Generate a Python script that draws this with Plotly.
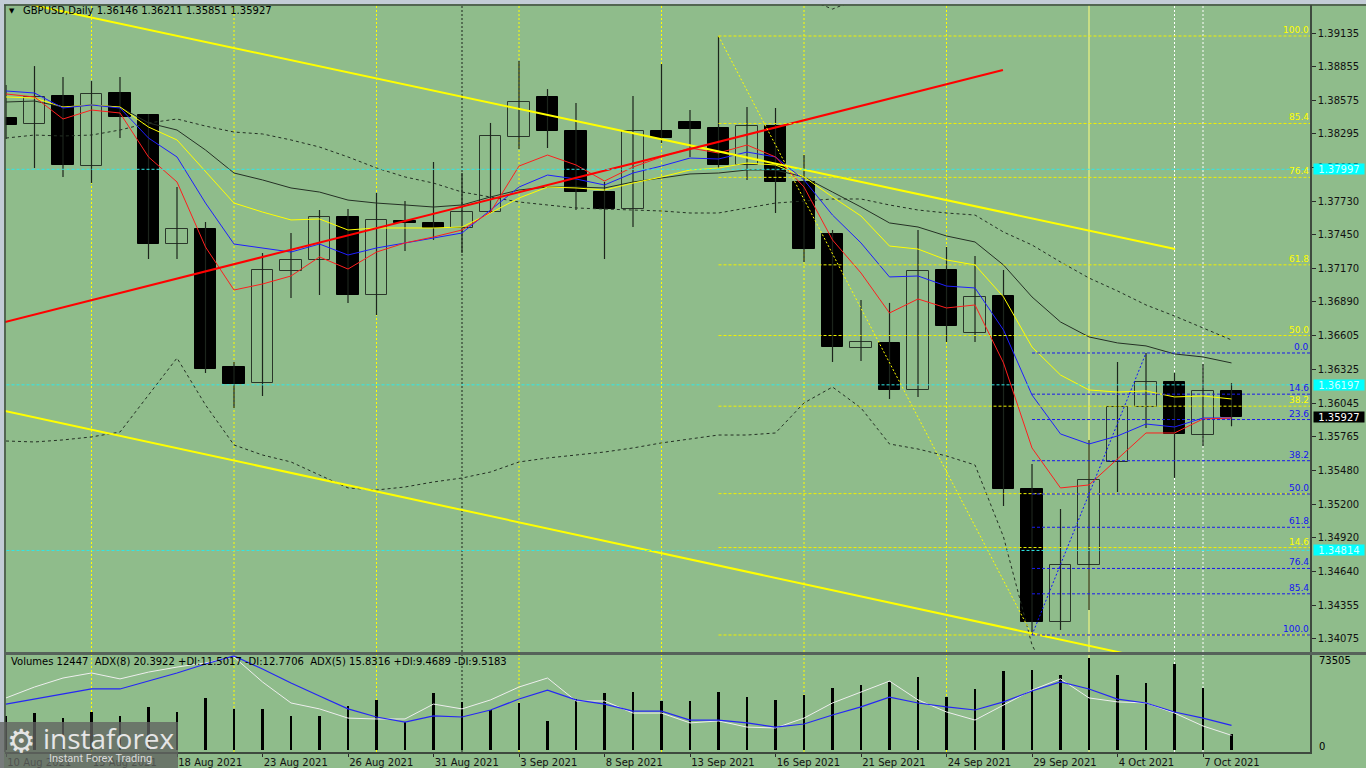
import plotly.graph_objects as go

# ---------------- data ----------------
dates = ["10 Aug 2021", "11 Aug 2021", "12 Aug 2021", "13 Aug 2021", "16 Aug 2021", "17 Aug 2021",
         "18 Aug 2021", "19 Aug 2021", "20 Aug 2021", "23 Aug 2021", "24 Aug 2021", "25 Aug 2021",
         "26 Aug 2021", "27 Aug 2021", "30 Aug 2021", "31 Aug 2021", "1 Sep 2021", "2 Sep 2021",
         "3 Sep 2021", "6 Sep 2021", "7 Sep 2021", "8 Sep 2021", "9 Sep 2021", "10 Sep 2021",
         "13 Sep 2021", "14 Sep 2021", "15 Sep 2021", "16 Sep 2021", "17 Sep 2021", "20 Sep 2021",
         "21 Sep 2021", "22 Sep 2021", "23 Sep 2021", "24 Sep 2021", "27 Sep 2021", "28 Sep 2021",
         "29 Sep 2021", "30 Sep 2021", "1 Oct 2021", "4 Oct 2021", "5 Oct 2021", "6 Oct 2021",
         "7 Oct 2021", "8 Oct 2021"]
bar_pos = list(range(len(dates)))

opens = [1.38425, 1.38375, 1.38609, 1.38024, 1.38634, 1.38450, 1.37373, 1.37498, 1.36346, 1.36213,
         1.37148, 1.37240, 1.37599, 1.36947, 1.37565, 1.37549, 1.37507, 1.37640, 1.38267, 1.38601,
         1.38317, 1.37807, 1.37665, 1.38317, 1.38392, 1.38342, 1.38033, 1.38359, 1.37891, 1.37457,
         1.36505, 1.36547, 1.36154, 1.37156, 1.36630, 1.36939, 1.35327, 1.34217, 1.34693, 1.35553,
         1.36012, 1.36221, 1.35778, 1.36146]
highs = [1.38700, 1.38859, 1.38768, 1.38734, 1.38768, 1.38459, 1.37849, 1.37557, 1.36388, 1.37298,
         1.37465, 1.37657, 1.37665, 1.37799, 1.37732, 1.38058, 1.37966, 1.38384, 1.38901, 1.38667,
         1.38551, 1.37891, 1.38609, 1.38876, 1.38492, 1.39110, 1.38517, 1.38509, 1.38116, 1.37490,
         1.36906, 1.36881, 1.37490, 1.37348, 1.37273, 1.37156, 1.35536, 1.35160, 1.35737, 1.36388,
         1.36463, 1.36296, 1.36371, 1.36211]
lows = [1.38250, 1.38008, 1.37933, 1.37883, 1.38258, 1.37248, 1.37248, 1.36296, 1.36004, 1.36104,
        1.36922, 1.36947, 1.36881, 1.36780, 1.37315, 1.37407, 1.37298, 1.37632, 1.38166, 1.38175,
        1.37657, 1.37248, 1.37515, 1.38217, 1.38100, 1.38008, 1.37908, 1.37632, 1.37223, 1.36388,
        1.36396, 1.36079, 1.36096, 1.36555, 1.36555, 1.35185, 1.34108, 1.34150, 1.34317, 1.35302,
        1.35837, 1.35420, 1.35686, 1.35851]
closes = [1.38367, 1.38601, 1.38033, 1.38626, 1.38434, 1.37373, 1.37498, 1.36329, 1.36204, 1.37156,
          1.37240, 1.37599, 1.36947, 1.37574, 1.37549, 1.37507, 1.37640, 1.38275, 1.38559, 1.38317,
          1.37807, 1.37665, 1.38317, 1.38258, 1.38333, 1.38033, 1.38359, 1.37891, 1.37331, 1.36513,
          1.36555, 1.36154, 1.37148, 1.36689, 1.36931, 1.35327, 1.34217, 1.34693, 1.35403, 1.36012,
          1.36221, 1.35787, 1.36146, 1.35927]

ma_red = [1.38626, 1.38601, 1.38417, 1.38492, 1.38467, 1.38100, 1.37891, 1.37348, 1.36989, 1.37039,
          1.37106, 1.37265, 1.37164, 1.37306, 1.37382, 1.37432, 1.37490, 1.37640, 1.38024, 1.38116,
          1.38033, 1.37899, 1.38016, 1.38100, 1.38175, 1.38133, 1.38200, 1.38100, 1.37849, 1.37407,
          1.37131, 1.36797, 1.36914, 1.36839, 1.36864, 1.36380, 1.35670, 1.35336, 1.35361, 1.35578,
          1.35795, 1.35795, 1.35912, 1.35920]
ma_blue = [1.38651, 1.38634, 1.38509, 1.38534, 1.38509, 1.38258, 1.38100, 1.37715, 1.37373, 1.37340,
           1.37306, 1.37373, 1.37281, 1.37340, 1.37382, 1.37423, 1.37465, 1.37657, 1.37849, 1.37949,
           1.37916, 1.37866, 1.37966, 1.38024, 1.38091, 1.38083, 1.38141, 1.38100, 1.37908, 1.37615,
           1.37382, 1.37098, 1.37106, 1.37022, 1.37006, 1.36655, 1.36112, 1.35787, 1.35703, 1.35770,
           1.35870, 1.35845, 1.35920, 1.35920]
ma_yellow = [1.38601, 1.38592, 1.38517, 1.38534, 1.38517, 1.38350, 1.38242, 1.37974, 1.37715, 1.37640,
             1.37574, 1.37582, 1.37490, 1.37507, 1.37507, 1.37507, 1.37515, 1.37632, 1.37757, 1.37849,
             1.37841, 1.37824, 1.37882, 1.37933, 1.37991, 1.38008, 1.38049, 1.38033, 1.37933, 1.37766,
             1.37607, 1.37356, 1.37331, 1.37240, 1.37198, 1.36931, 1.36513, 1.36279, 1.36154, 1.36137,
             1.36146, 1.36096, 1.36104, 1.36079]
ma_black = [1.38559, 1.38567, 1.38517, 1.38534, 1.38517, 1.38384, 1.38325, 1.38158, 1.37966, 1.37908,
            1.37841, 1.37807, 1.37740, 1.37715, 1.37699, 1.37682, 1.37699, 1.37766, 1.37824, 1.37849,
            1.37849, 1.37841, 1.37891, 1.37924, 1.37958, 1.37966, 1.37991, 1.37991, 1.37933, 1.37807,
            1.37682, 1.37549, 1.37515, 1.37440, 1.37390, 1.37198, 1.36931, 1.36722, 1.36597, 1.36547,
            1.36522, 1.36455, 1.36430, 1.36380]
band_upper = [1.38258, 1.38283, 1.38275, 1.38283, 1.38325, 1.38384, 1.38417, 1.38358, 1.38308, 1.38292,
              1.38242, 1.38183, 1.38100, 1.38008, 1.37933, 1.37882, 1.37807, 1.37766, 1.37724, 1.37699,
              1.37674, 1.37665, 1.37657, 1.37649, 1.37632, 1.37632, 1.37674, 1.37715, 1.37732, 1.37749,
              1.37749, 1.37699, 1.37657, 1.37632, 1.37615, 1.37473, 1.37365, 1.37223, 1.37089, 1.36981,
              1.36864, 1.36772, 1.36672, 1.36572]
band_lower = [1.35728, 1.35720, 1.35737, 1.35762, 1.35803, 1.36112, 1.36421, 1.36029, 1.35695, 1.35611,
              1.35553, 1.35444, 1.35336, 1.35319, 1.35344, 1.35386, 1.35419, 1.35469, 1.35553, 1.35586,
              1.35611, 1.35636, 1.35670, 1.35712, 1.35745, 1.35778, 1.35778, 1.35795, 1.36046, 1.36179,
              1.36004, 1.35703, 1.35661, 1.35603, 1.35528, 1.34927, 1.34025, 1.33566, 1.33399, 1.33316,
              1.33274, 1.33232, 1.33190, 1.33149]
band_top_pos = [28, 29, 30]
band_top = [1.39430, 1.39335, 1.39430]

volumes = [27166, 29563, 25568, 30362, 27166, 34357, 30362, 41548, 32759, 32759,
           27166, 27166, 35156, 39950, 22372, 45543, 38352, 31960, 37553, 23171,
           40749, 45543, 46342, 39151, 39151, 46342, 42347, 39950, 43945, 49538,
           51935, 54332, 58327, 42347, 48739, 63121, 63920, 59925, 73505, 59925,
           53533, 68714, 49538, 12447]
adx8 = [30.1, 32.4, 34.7, 37.0, 37.0, 40.6, 44.3, 48.4, 52.1, 46.1,
        39.7, 33.8, 27.9, 24.2, 21.9, 24.7, 24.2, 27.4, 32.4, 36.5,
        32.0, 30.1, 26.9, 26.9, 22.8, 22.8, 21.5, 19.6, 21.0, 25.1,
        28.8, 33.3, 30.6, 28.8, 27.4, 31.1, 36.1, 40.2, 37.0, 32.4,
        30.6, 26.5, 23.7, 20.39]
adx5 = [32.9, 37.9, 42.0, 44.3, 41.6, 44.7, 47.0, 48.9, 51.6, 40.2,
        30.6, 27.9, 23.7, 23.3, 23.3, 30.1, 27.9, 32.0, 37.9, 42.0,
        31.5, 31.5, 26.0, 26.0, 21.5, 22.4, 19.6, 19.2, 23.7, 30.6,
        35.6, 40.6, 32.0, 26.5, 22.8, 29.7, 36.5, 41.6, 32.9, 31.1,
        30.6, 26.0, 20.1, 15.83]

price_ticks = [1.39135, 1.38855, 1.38575, 1.38295, 1.38015, 1.37730, 1.37450, 1.37170, 1.36890, 1.36605,
               1.36325, 1.36045, 1.35765, 1.35480, 1.35200, 1.34920, 1.34640, 1.34355, 1.34075]
date_tick_pos = [0, 3, 6, 9, 12, 15, 18, 21, 24, 27, 30, 33, 36, 39, 42]

trend_red = {"x": [-0.035, 34.98], "y": [1.36722, 1.38826]}
trend_yellow_upper = {"x": [0.90, 41.02], "y": [1.39371, 1.37332]}
trend_yellow_lower = {"x": [-0.035, 40.0], "y": [1.35979, 1.33915]}
fib_yellow = {"x": [25, 36], "y": [1.39110, 1.34108]}
fib_blue = {"x": [36, 40], "y": [1.34108, 1.36463]}
fib_levels = [0.0, 14.6, 23.6, 38.2, 50.0, 61.8, 76.4, 85.4, 100.0]
fib_yellow_labels = [14.6, 38.2, 50.0, 61.8, 76.4, 85.4, 100.0]
hlines_cyan = [1.37997, 1.36197, 1.34814]
vlines_yellow_dot = [3, 8, 13, 18, 23, 28, 33]
vlines_yellow_solid = [38]
vlines_white_dot = [41, 42]
vlines_black_dot = [16]
last_price = 1.35927

header = "GBPUSD,Daily 1.36146 1.36211 1.35851 1.35927"
ind_header = ("Volumes 12447\u00a0\u00a0ADX(8) 20.3922 +DI:11.5017 -DI:12.7706\u00a0\u00a0"
              "ADX(5) 15.8316 +DI:9.4689 -DI:9.5183")

# ---------------- style / geometry ----------------
BG = "#8FBC8B"
FRAME = "#3E4A3E"
FONT = "DejaVu Sans"
XR = [-0.035, 45.754]
YR = [1.33966, 1.39369]
VR = [-1598, 75902]
AR = [8.22, 52.51]
Y_MAIN_BOT = 0.13387
Y_IND_TOP = 0.12985


def px_x(px):
    return (px - 5) / 1305.0


def px_y(py):
    return (752 - py) / 747.0


fig = go.Figure()

# wicks
wx, wy = [], []
for i, h, l in zip(bar_pos, highs, lows):
    wx += [i, i, None]
    wy += [h, l, None]
fig.add_trace(go.Scatter(x=wx, y=wy, mode="lines", line=dict(color="#1C241C", width=1.2),
                         hoverinfo="skip", xaxis="x", yaxis="y"))

# bodies
inc_x, inc_b, inc_h, dec_x, dec_b, dec_h = [], [], [], [], [], []
for i, o, c in zip(bar_pos, opens, closes):
    if c >= o:
        inc_x.append(i); inc_b.append(o); inc_h.append(c - o)
    else:
        dec_x.append(i); dec_b.append(c); dec_h.append(o - c)
fig.add_trace(go.Bar(x=inc_x, y=inc_h, base=inc_b, width=0.75,
                     marker=dict(color=BG, line=dict(color="#2A362A", width=1)),
                     xaxis="x", yaxis="y", hoverinfo="skip"))
fig.add_trace(go.Bar(x=dec_x, y=dec_h, base=dec_b, width=0.75,
                     marker=dict(color="#000000", line=dict(color="#000000", width=1)),
                     xaxis="x", yaxis="y", hoverinfo="skip"))

# bands & moving averages
dotb = dict(color="#243024", width=1, dash="3px,3px")
fig.add_trace(go.Scatter(x=bar_pos, y=band_upper, mode="lines", line=dotb, hoverinfo="skip"))
fig.add_trace(go.Scatter(x=bar_pos, y=band_lower, mode="lines", line=dotb, hoverinfo="skip"))
fig.add_trace(go.Scatter(x=band_top_pos, y=band_top, mode="lines", line=dotb, hoverinfo="skip"))
fig.add_trace(go.Scatter(x=bar_pos, y=ma_black, mode="lines", line=dict(color="#253025", width=1), hoverinfo="skip"))
fig.add_trace(go.Scatter(x=bar_pos, y=ma_yellow, mode="lines", line=dict(color="#FFFF00", width=1), hoverinfo="skip"))
fig.add_trace(go.Scatter(x=bar_pos, y=ma_blue, mode="lines", line=dict(color="#1E1EFF", width=1), hoverinfo="skip"))
fig.add_trace(go.Scatter(x=bar_pos, y=ma_red, mode="lines", line=dict(color="#FF1E1E", width=1), hoverinfo="skip"))

# trend lines
for tl, col in [(trend_yellow_upper, "#FFFF00"), (trend_yellow_lower, "#FFFF00"), (trend_red, "#FF0000")]:
    fig.add_trace(go.Scatter(x=tl["x"], y=tl["y"], mode="lines", line=dict(color=col, width=2), hoverinfo="skip"))

# cyan horizontal lines
for hv in hlines_cyan:
    fig.add_trace(go.Scatter(x=[XR[0] - 1, XR[1] + 1], y=[hv, hv], mode="lines",
                             line=dict(color="#30E8E8", width=1, dash="3px,2px"), hoverinfo="skip"))

annotations = []

# yellow fibonacci
fy_hi, fy_lo = fib_yellow["y"][0], fib_yellow["y"][1]
fig.add_trace(go.Scatter(x=fib_yellow["x"], y=fib_yellow["y"], mode="lines",
                         line=dict(color="#FFFF00", width=1, dash="2px,2px"), hoverinfo="skip"))
for lv in fib_levels:
    p = fy_lo + lv / 100.0 * (fy_hi - fy_lo)
    fig.add_trace(go.Scatter(x=[fib_yellow["x"][0], XR[1] + 1], y=[p, p], mode="lines",
                             line=dict(color="#F0F000", width=1, dash="3px,2px"), hoverinfo="skip"))
    if lv in fib_yellow_labels:
        annotations.append(dict(x=1.0, xref="paper", y=p, yref="y", text=f"{lv:.1f}", showarrow=False,
                                xanchor="right", yanchor="bottom", borderpad=0,
                                font=dict(family=FONT, size=9, color="#FFFF00")))

# blue fibonacci
fb_lo, fb_hi = fib_blue["y"][0], fib_blue["y"][1]
fig.add_trace(go.Scatter(x=fib_blue["x"], y=fib_blue["y"], mode="lines",
                         line=dict(color="#1010FF", width=1, dash="2px,2px"), hoverinfo="skip"))
for lv in fib_levels:
    p = fb_hi - lv / 100.0 * (fb_hi - fb_lo)
    fig.add_trace(go.Scatter(x=[fib_blue["x"][0], XR[1] + 1], y=[p, p], mode="lines",
                             line=dict(color="#1A1AEE", width=1, dash="3px,2px"), hoverinfo="skip"))
    annotations.append(dict(x=1.0, xref="paper", y=p, yref="y", text=f"{lv:.1f}", showarrow=False,
                            xanchor="right", yanchor="bottom", borderpad=0,
                            font=dict(family=FONT, size=9, color="#1515F0")))

# indicator window
fig.add_trace(go.Bar(x=bar_pos, y=volumes, width=0.1, marker=dict(color="#000000", line=dict(width=0)),
                     xaxis="x2", yaxis="y2", hoverinfo="skip"))
fig.add_trace(go.Scatter(x=bar_pos, y=adx5, mode="lines", line=dict(color="#EEEEEE", width=1),
                         xaxis="x2", yaxis="y3", hoverinfo="skip"))
fig.add_trace(go.Scatter(x=bar_pos, y=adx8, mode="lines", line=dict(color="#2626F5", width=1.2),
                         xaxis="x2", yaxis="y3", hoverinfo="skip"))

# ---------------- shapes ----------------
shapes = []
for xv in vlines_yellow_dot:
    shapes.append(dict(type="line", xref="x", yref="paper", x0=xv, x1=xv, y0=0, y1=1, layer="below",
                       line=dict(color="#FFFF00", width=1, dash="2px,2px")))
for xv in vlines_yellow_solid:
    shapes.append(dict(type="line", xref="x", yref="paper", x0=xv, x1=xv, y0=0, y1=1, layer="below",
                       line=dict(color="#FFFF80", width=1)))
for xv in vlines_white_dot:
    shapes.append(dict(type="line", xref="x", yref="paper", x0=xv, x1=xv, y0=0, y1=1, layer="below",
                       line=dict(color="#FFFFFF", width=1, dash="2px,2px")))
for xv in vlines_black_dot:
    shapes.append(dict(type="line", xref="x", yref="paper", x0=xv, x1=xv, y0=0, y1=1, layer="below",
                       line=dict(color="#1C241C", width=1, dash="2px,2px")))
# window frame
shapes.append(dict(type="rect", xref="paper", yref="paper", x0=px_x(0), x1=px_x(1366), y0=px_y(4), y1=px_y(0),
                   fillcolor="#C3CCD6", line=dict(width=0), layer="above"))
shapes.append(dict(type="rect", xref="paper", yref="paper", x0=px_x(0), x1=px_x(4), y0=px_y(768), y1=px_y(0),
                   fillcolor="#C3CCD6", line=dict(width=0), layer="above"))
shapes.append(dict(type="line", xref="paper", yref="paper", x0=px_x(4), x1=px_x(1366), y0=1, y1=1,
                   line=dict(color=FRAME, width=1.5), layer="above"))
shapes.append(dict(type="line", xref="paper", yref="paper", x0=0, x1=0, y0=0, y1=1,
                   line=dict(color=FRAME, width=1.5), layer="above"))
shapes.append(dict(type="rect", xref="paper", yref="paper", x0=px_x(4), x1=px_x(1366),
                   y0=Y_IND_TOP, y1=Y_MAIN_BOT, fillcolor="#56625A", line=dict(width=0), layer="above"))
# logo plate
shapes.append(dict(type="rect", xref="paper", yref="paper", x0=px_x(0), x1=px_x(178), y0=px_y(768), y1=px_y(722),
                   fillcolor="rgba(98,100,98,0.78)", line=dict(width=0), layer="above"))

# ---------------- annotations ----------------
annotations += [
    dict(x=px_x(12), y=px_y(11), xref="paper", yref="paper", text="\u25BC", showarrow=False,
         xanchor="center", yanchor="middle", font=dict(family=FONT, size=7, color="#000000")),
    dict(x=px_x(21), y=px_y(11), xref="paper", yref="paper", text=header, showarrow=False,
         xanchor="left", yanchor="middle", font=dict(family=FONT, size=10, color="#000000")),
    dict(x=px_x(9), y=px_y(661), xref="paper", yref="paper", text=ind_header, showarrow=False,
         xanchor="left", yanchor="middle", font=dict(family=FONT, size=10, color="#000000")),
    dict(x=px_x(1317), y=px_y(660), xref="paper", yref="paper", text="73505", showarrow=False,
         xanchor="left", yanchor="middle", font=dict(family=FONT, size=10, color="#000000")),
    dict(x=px_x(1317), y=px_y(746), xref="paper", yref="paper", text="0", showarrow=False,
         xanchor="left", yanchor="middle", font=dict(family=FONT, size=10, color="#000000")),
]
for hv in hlines_cyan:
    annotations.append(dict(x=px_x(1313), xref="paper", y=hv, yref="y", text=f"{hv:.5f}", showarrow=False,
                            xanchor="left", yanchor="middle", width=50, height=10, bgcolor="#00FFFF",
                            borderpad=0, align="center", font=dict(family=FONT, size=10, color="#D2FFFF")))
annotations.append(dict(x=px_x(1313), xref="paper", y=last_price, yref="y", text=f"{last_price:.5f}",
                        showarrow=False, xanchor="left", yanchor="middle", width=50, height=10,
                        bgcolor="#000000", borderpad=0, align="center",
                        font=dict(family=FONT, size=10, color="#FFFFFF")))
# logo
annotations += [
    dict(x=px_x(21), y=px_y(741), xref="paper", yref="paper", text="\u2699", showarrow=False,
         xanchor="center", yanchor="middle", font=dict(family=FONT, size=32, color="#E4E4E4")),
    dict(x=px_x(41), y=px_y(738), xref="paper", yref="paper", text="instaforex", showarrow=False,
         xanchor="left", yanchor="middle", font=dict(family="Open Sans", size=28, color="#E6E6E6")),
    dict(x=px_x(47), y=px_y(759), xref="paper", yref="paper", text="Instant Forex Trading", showarrow=False,
         xanchor="left", yanchor="middle", font=dict(family="Roboto", size=11, color="#DADADA")),
]

fig.update_layout(
    width=1366, height=768, autosize=False,
    margin=dict(l=5, r=56, t=5, b=16, autoexpand=False),
    paper_bgcolor=BG, plot_bgcolor=BG,
    showlegend=False, barmode="overlay", bargap=0,
    font=dict(family=FONT, size=10, color="#000000"),
    xaxis=dict(domain=[0, 1], range=XR, anchor="y", showticklabels=False, showgrid=False,
               zeroline=False, ticks="", showline=False, automargin=False),
    yaxis=dict(domain=[Y_MAIN_BOT, 1], range=YR, side="right", anchor="x",
               tickvals=price_ticks, ticktext=[f"{v:.5f}" for v in price_ticks],
               ticks="outside", ticklen=4, tickcolor="#2A2A2A",
               tickfont=dict(family=FONT, size=10, color="#111111"), automargin=False,
               showgrid=False, zeroline=False, showline=True, linecolor=FRAME, linewidth=1.5),
    xaxis2=dict(domain=[0, 1], range=XR, anchor="y2",
                tickvals=date_tick_pos, ticktext=[dates[i] for i in date_tick_pos],
                ticklabelposition="outside right", ticks="outside", ticklen=3, tickcolor="#2A2A2A",
                tickfont=dict(family=FONT, size=10, color="#111111"), automargin=False,
                showgrid=False, zeroline=False, showline=True, linecolor=FRAME, linewidth=1.5),
    yaxis2=dict(domain=[0, Y_IND_TOP], range=VR, side="right", anchor="x2", showticklabels=False,
                ticks="", showgrid=False, zeroline=False, showline=True, linecolor=FRAME, linewidth=1.5,
                automargin=False),
    yaxis3=dict(overlaying="y2", anchor="x2", range=AR, visible=False, showgrid=False, zeroline=False,
                automargin=False),
    shapes=shapes,
    annotations=annotations,
)

fig.write_html("out.html", config={"displayModeBar": False, "responsive": False},
               post_script=("document.body.style.margin='0';document.body.style.padding='0';"
                            "document.body.style.overflow='hidden';"))
